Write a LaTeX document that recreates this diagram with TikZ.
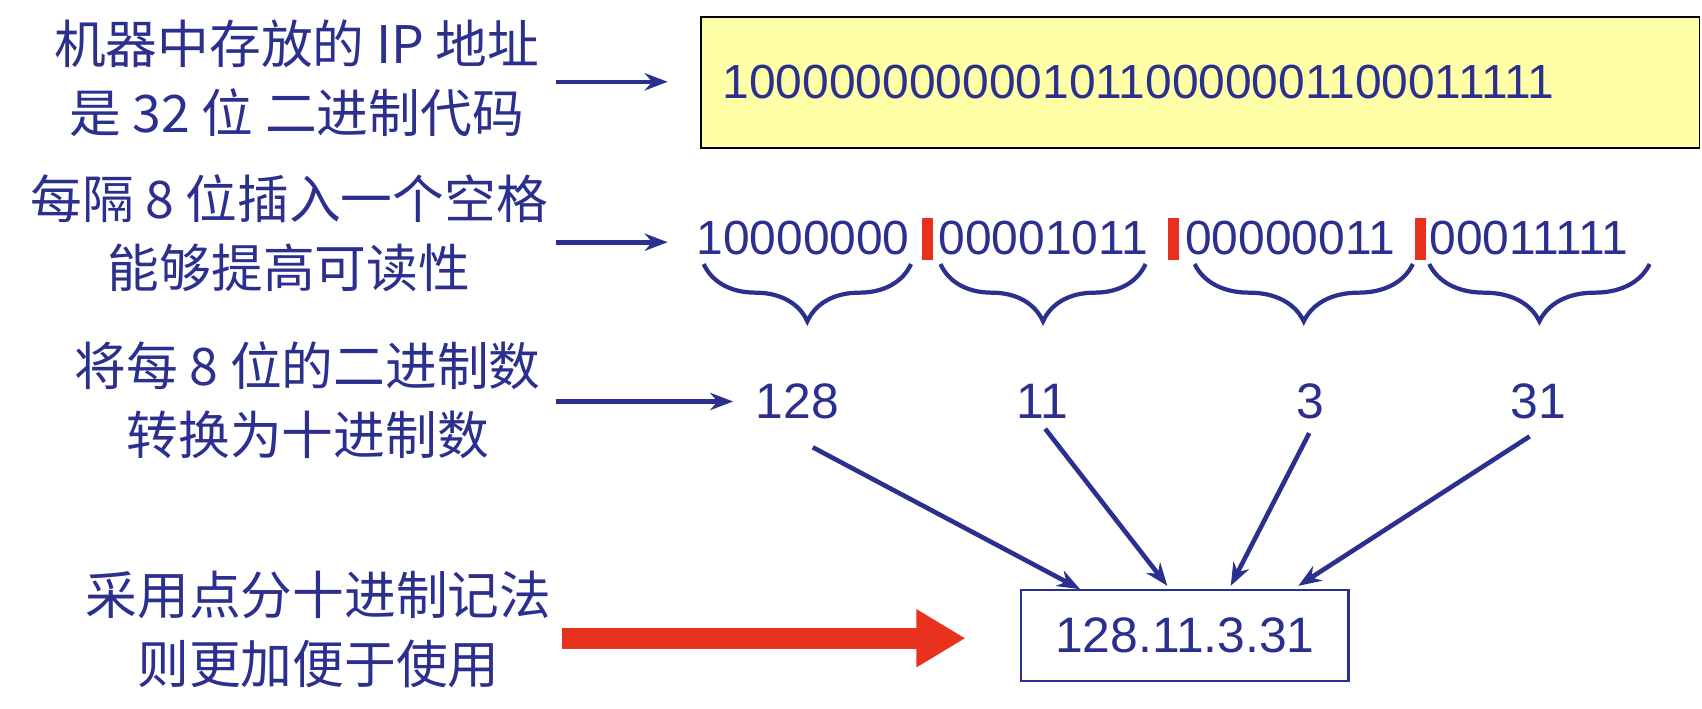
\documentclass[tikz,border=0pt]{standalone}
\usepackage{fontspec}
\setmainfont{Liberation Sans}
\newfontfamily\cjk{Noto Sans CJK SC}
\usetikzlibrary{decorations.pathreplacing,arrows.meta}
\definecolor{ipblue}{HTML}{2B2F8E}
\definecolor{ipred}{HTML}{E8321E}
\definecolor{ipyellow}{HTML}{FFFFA8}
\tikzset{
  note/.style={text=ipblue, font=\cjk\fontsize{27}{36}\selectfont, align=center, inner sep=0pt},
  bits/.style={text=ipblue, font=\fontsize{25}{30}\selectfont, inner sep=0pt, anchor=west},
  num/.style={text=ipblue, font=\fontsize{26}{30}\selectfont, inner sep=0pt},
  link/.style={ipblue, line width=2.4pt, -{Stealth[length=12pt,width=9pt]}},
  grp/.style={ipblue, line width=2.2pt, decorate, decoration={brace, mirror, amplitude=1.05cm, aspect=0.5}},
  sep/.style={fill=ipred, draw=none, minimum width=0.2cm, minimum height=0.76cm, inner sep=0pt}
}
\begin{document}
\begin{tikzpicture}[x=0.02cm, y=-0.02cm]
  \useasboundingbox (0,0) rectangle (1560,649);
  % 说明文字
  \node[note] (t1) at (272,72) {机器中存放的 IP 地址\\是 32 位 二进制代码};
  \node[note] (t2) at (265,214) {每隔 8 位插入一个空格\\能够提高可读性};
  \node[note] (t3) at (282,367) {将每 8 位的二进制数\\转换为十进制数};
  \node[note] (t4) at (292,577) {采用点分十进制记法\\则更加便于使用};

  % 32 位二进制
  \node[draw=black, line width=1pt, fill=ipyellow, minimum width=18.3cm, minimum height=2.4cm, anchor=north west] (box) at (642,15) {};
  \node[bits] (b32) at (662,75) {10000000000010110000001100011111};

  % 每 8 位一组
  \node[bits] (g1) at (638,218) {10000000};
  \node[bits] (g2) at (860,218) {00001011};
  \node[bits] (g3) at (1086,218) {00000011};
  \node[bits] (g4) at (1310,218) {00011111};
  \foreach \x/\name in {850/s1,1076/s2,1302/s3}
    \node[sep] (\name) at (\x,219) {};
  \foreach \a/\b in {645/835,862/1050,1095/1295,1310/1512}
    \draw[grp] (\a,242) -- (\b,242);

  % 十进制
  \node[num] (n1) at (731,368) {128};
  \node[num] (n2) at (955,368) {11};
  \node[num] (n3) at (1201,368) {3};
  \node[num] (n4) at (1410,368) {31};

  \node[draw=ipblue, line width=1.2pt, minimum width=6cm, minimum height=1.66cm, anchor=north west, num] (dot) at (935,540) {};
  \node[num] at (dot.center) {128.11.3.31};

  % 箭头
  \coordinate (e1) at (612,75);
  \coordinate (e2) at (612,222);
  \coordinate (e3) at (672,368);
  \draw[link] (510,75) -- (e1);
  \draw[link] (510,222) -- (e2);
  \draw[link] (510,368) -- (e3);
  \draw[link] (745,410) -- (990,540);
  \draw[link] (958,393) -- (1070,537);
  \draw[link] (1200,397) -- (1128,537);
  \draw[link] (1402,400) -- (1190,537);
  \draw[ipred, line width=0.38cm, -{Triangle[length=0.9cm,width=1.0cm]}] (515,585) -- (885,585);
\end{tikzpicture}
\end{document}
